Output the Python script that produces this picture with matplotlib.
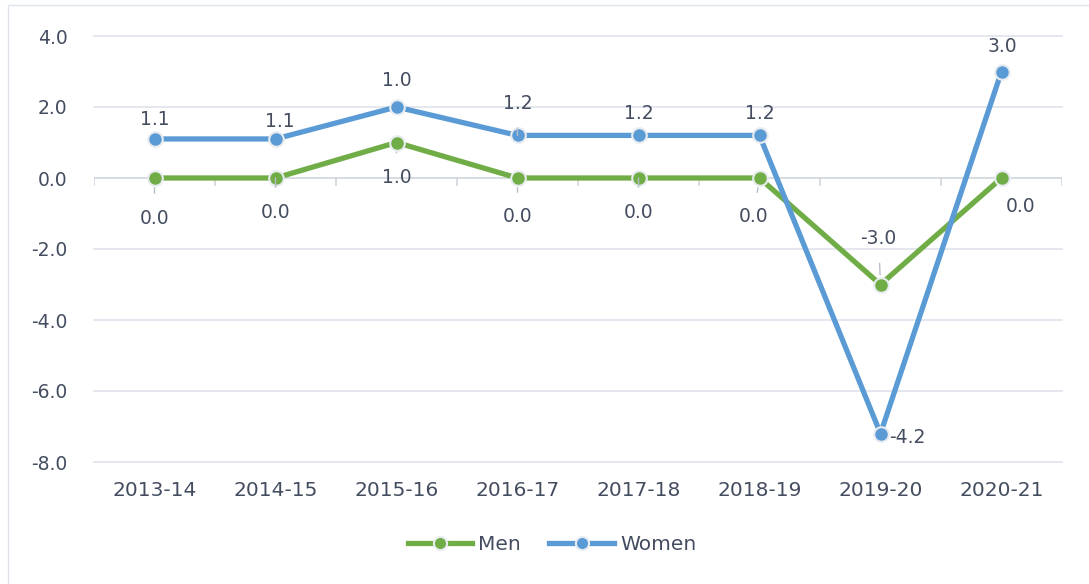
import numpy as np
import matplotlib.pyplot as plt
from matplotlib.patches import Rectangle

years = ['2013-14', '2014-15', '2015-16', '2016-17', '2017-18', '2018-19', '2019-20', '2020-21']
men = [0.0, 0.0, 1.0, 0.0, 0.0, 0.0, -3.0, 0.0]
women = [1.1, 1.1, 1.0, 1.2, 1.2, 1.2, -4.2, 3.0]
yticks = [-8.0, -6.0, -4.0, -2.0, 0.0, 2.0, 4.0]

# stacked line chart: women drawn on top of men
men_y = np.array(men)
women_y = men_y + np.array(women)

# label offsets in pixels (dx, dy)
men_off = [(0, -40), (0, -34), (0, -35), (0, -39), (0, -34), (-6, -39), (-2, 46), (19, -28)]
women_off = [(0, 19), (4, 17), (0, 26), (0, 32), (0, 22), (0, 22), (27, -4), (1, 25)]

GREEN = '#70ad47'
BLUE = '#5b9bd5'
TXT = '#444d60'
GRID = '#dfe3ea'

plt.rcParams['font.family'] = ['DejaVu Sans']

fig = plt.figure(figsize=(10.89, 5.84), dpi=100)
ax = fig.add_axes([94/1089, 1 - 462/584, (1062 - 94)/1089, 426/584])

x = np.arange(len(years))
ax.set_xlim(-0.5, len(years) - 0.5)
ax.set_ylim(-8, 4)

for t in yticks:
    if t != 0:
        ax.axhline(t, color=GRID, lw=1.2, zorder=0, clip_on=False)
ax.axhline(0, color='#d0d5dd', lw=1.2, zorder=1)
# category boundary ticks on the zero line
for b in np.arange(-0.5, len(years)):
    ax.plot([b, b], [0, -0.2], color='#d0d5dd', lw=1.2, zorder=1)

mk = dict(marker='o', markersize=10.5, markeredgewidth=1.5, markeredgecolor='#e8ecf0')
ax.plot(x, men_y, color=GREEN, lw=3.8, markerfacecolor=GREEN, label='Men', zorder=3, **mk)
ax.plot(x, women_y, color=BLUE, lw=3.8, markerfacecolor=BLUE, label='Women', zorder=4, **mk)

def put_labels(vals, ys, offs):
    for i, (v, yv, (dx, dy)) in enumerate(zip(vals, ys, offs)):
        far = abs(dy) > 30
        ax.annotate(f'{v:.1f}', (i, yv), xytext=(dx, dy), textcoords='offset pixels',
                    ha='center', va='center', fontsize=13.5, color=TXT, zorder=5,
                    arrowprops=dict(arrowstyle='-', color='#b8bec8', lw=1,
                                    shrinkA=9, shrinkB=7) if far else None)

put_labels(men, men_y, men_off)
put_labels(women, women_y, women_off)

ax.set_yticks(yticks)
ax.set_yticklabels([f'{t:.1f}' for t in yticks])
ax.set_xticks(x)
ax.set_xticklabels(years)
ax.tick_params(axis='both', length=0, labelsize=13.5, labelcolor=TXT)
ax.tick_params(axis='x', labelsize=14.5, pad=14)
ax.tick_params(axis='y', pad=19)
for s in ax.spines.values():
    s.set_visible(False)

leg = fig.legend(loc='center', bbox_to_anchor=(552/1089, 1 - 545/584), ncol=2, frameon=False,
                 fontsize=14.5, labelcolor=TXT, handlelength=3.2, columnspacing=1.4,
                 handletextpad=0.3, markerscale=0.9)

# faint outer chart frame
fig.patches.append(Rectangle((8/1089, -0.1), 1.2, 1 - 5/584 + 0.1, transform=fig.transFigure,
                             fill=False, edgecolor='#dfe3ea', lw=1))

fig.savefig('out.png', dpi=100)
